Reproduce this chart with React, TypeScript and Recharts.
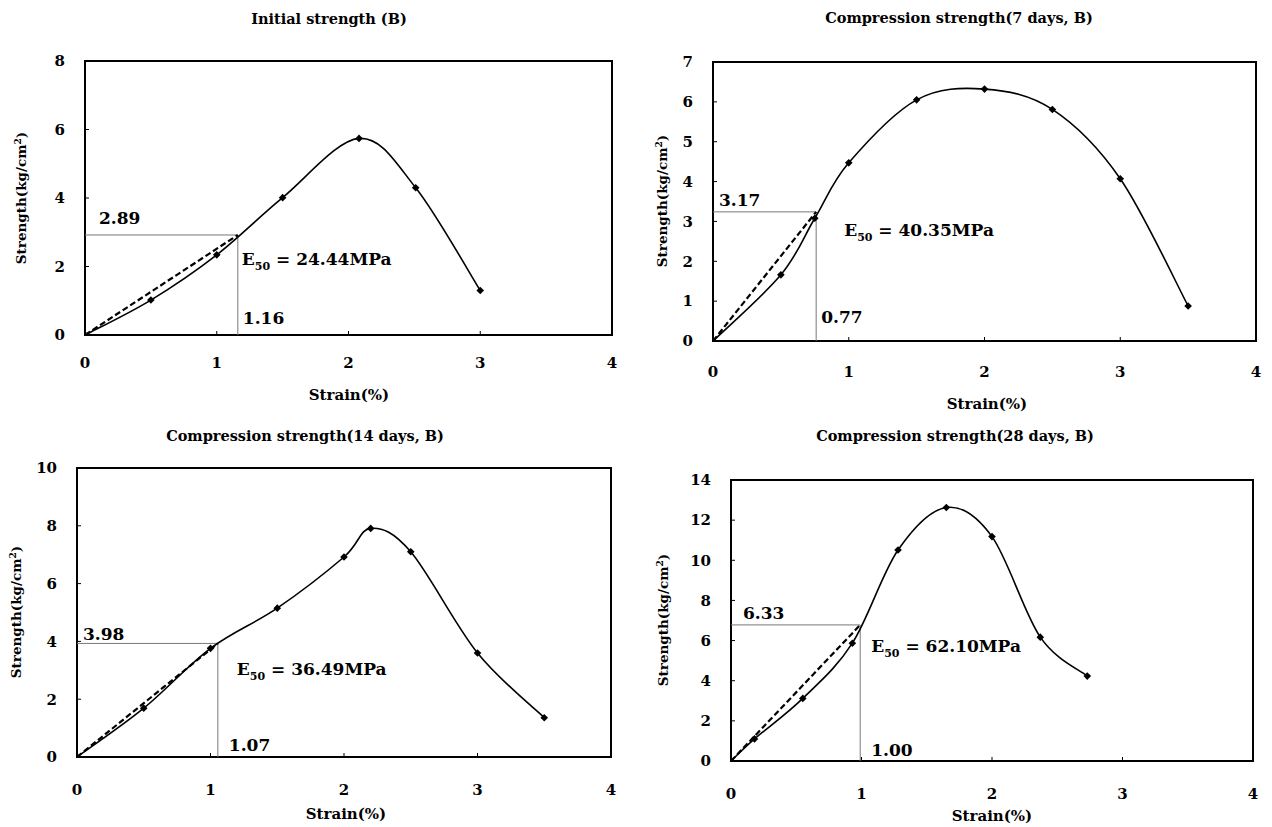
import React from 'react';
import {
  LineChart,
  Line,
  XAxis,
  YAxis,
  ReferenceLine,
  ReferenceArea,
  ReferenceDot,
} from 'recharts';

const FONT = "'DejaVu Serif', 'Liberation Serif', serif";

// ---------- data ----------
const titles = [
  'Initial strength (B)',
  'Compression strength(7 days, B)',
  'Compression strength(14 days, B)',
  'Compression strength(28 days, B)',
];

const initStrain = [0, 0.5, 1.0, 1.5, 2.08, 2.51, 3.0];
const initStress = [0, 1.02, 2.34, 4.01, 5.74, 4.3, 1.3];

const d7Strain = [0, 0.5, 0.75, 1.0, 1.5, 2.0, 2.5, 3.0, 3.5];
const d7Stress = [0, 1.66, 3.08, 4.47, 6.05, 6.32, 5.81, 4.07, 0.88];

const d14Strain = [0, 0.5, 1.0, 1.5, 2.0, 2.2, 2.5, 3.0, 3.5];
const d14Stress = [0, 1.69, 3.76, 5.15, 6.92, 7.91, 7.1, 3.6, 1.36];

const d28Strain = [0, 0.18, 0.55, 0.93, 1.28, 1.65, 2.0, 2.37, 2.73];
const d28Stress = [0, 1.1, 3.12, 5.87, 10.51, 12.63, 11.18, 6.17, 4.23];

// E50 construction points (as drawn) and their printed labels
const e50Strain = [1.16, 0.76, 1.055, 0.99];
const e50Stress = [2.92, 3.24, 3.93, 6.78];
const stressText = ['2.89', '3.17', '3.98', '6.33'];
const strainText = ['1.16', '0.77', '1.07', '1.00'];
const modulusText = ['24.44', '40.35', '36.49', '62.10'];

const xTicks = [0, 1, 2, 3, 4];
const yTicks1 = [0, 2, 4, 6, 8];
const yTicks2 = [0, 1, 2, 3, 4, 5, 6, 7];
const yTicks3 = [0, 2, 4, 6, 8, 10];
const yTicks4 = [0, 2, 4, 6, 8, 10, 12, 14];

const xTitle = 'Strain(%)';

// ---------- layout / style config ----------
type PanelCfg = {
  strain: number[];
  stress: number[];
  yTicks: number[];
  box: [number, number, number, number];
  margin: { top: number; right: number; bottom: number; left: number };
  xTickMargin: number;
  titlePos: [number, number];
  yTitlePos: [number, number];
  xTitlePos: [number, number];
  stressOff: [number, number];
  modOff: [number, number];
  strainOff: [number, number];
};

const panels: PanelCfg[] = [
  {
    strain: initStrain,
    stress: initStress,
    yTicks: yTicks1,
    box: [0, 0, 636, 413],
    margin: { top: 61, right: 24, bottom: 38, left: 25 },
    xTickMargin: 26,
    titlePos: [329, 19],
    yTitlePos: [22, 198],
    xTitlePos: [349, 395],
    stressOff: [14, -11],
    modOff: [4, 30],
    strainOff: [5, -11],
  },
  {
    strain: d7Strain,
    stress: d7Stress,
    yTicks: yTicks2,
    box: [636, 0, 636, 413],
    margin: { top: 62, right: 16, bottom: 32, left: 17 },
    xTickMargin: 29,
    titlePos: [959, 18],
    yTitlePos: [663, 201],
    xTitlePos: [987, 404],
    stressOff: [6, -6],
    modOff: [28, 24],
    strainOff: [5, -18],
  },
  {
    strain: d14Strain,
    stress: d14Stress,
    yTicks: yTicks3,
    box: [0, 413, 636, 414],
    margin: { top: 55, right: 25, bottom: 30, left: 17 },
    xTickMargin: 31,
    titlePos: [305, 436],
    yTitlePos: [17, 612],
    xTitlePos: [346, 814],
    stressOff: [6, -3],
    modOff: [19, 32],
    strainOff: [11, -6],
  },
  {
    strain: d28Strain,
    stress: d28Stress,
    yTicks: yTicks4,
    box: [636, 413, 636, 414],
    margin: { top: 67, right: 19, bottom: 26, left: 35 },
    xTickMargin: 31,
    titlePos: [955, 436],
    yTitlePos: [664, 620],
    xTitlePos: [992, 816],
    stressOff: [12, -6],
    modOff: [11, 27],
    strainOff: [11, -5],
  },
];

// Catmull-Rom style smoothing (similar to spreadsheet "smoothed line")
function smoothCurve(context: any) {
  let pts: [number, number][] = [];
  return {
    areaStart() {},
    areaEnd() {},
    lineStart() {
      pts = [];
    },
    lineEnd() {
      const n = pts.length;
      if (!n) return;
      context.moveTo(pts[0][0], pts[0][1]);
      if (n === 1) return;
      const t = 1 / 6;
      for (let i = 0; i < n - 1; i++) {
        const p0 = pts[i - 1] || pts[i];
        const p1 = pts[i];
        const p2 = pts[i + 1];
        const p3 = pts[i + 2] || p2;
        context.bezierCurveTo(
          p1[0] + (p2[0] - p0[0]) * t,
          p1[1] + (p2[1] - p0[1]) * t,
          p2[0] - (p3[0] - p1[0]) * t,
          p2[1] - (p3[1] - p1[1]) * t,
          p2[0],
          p2[1]
        );
      }
    },
    point(x: number, y: number) {
      pts.push([+x, +y]);
    },
  };
}

const Diamond = (props: any) => {
  const { cx, cy, index } = props;
  if (cx == null || cy == null) return <g key={`d-${index}`} />;
  const s = 3.8;
  return (
    <path
      key={`d-${index}`}
      d={`M${cx},${cy - s}L${cx + s},${cy}L${cx},${cy + s}L${cx - s},${cy}Z`}
      fill="#000"
    />
  );
};

const annStyle = {
  fontFamily: FONT,
  fontWeight: 700,
  fontSize: 17,
  fill: '#000',
};

const tickStyle = {
  fill: '#000',
  fontSize: 15,
  fontFamily: FONT,
  fontWeight: 700,
};

function Panel({ cfg, idx }: { cfg: PanelCfg; idx: number }) {
  const curve = cfg.strain.map((x, i) => ({ x, y: cfg.stress[i] }));
  const ex = e50Strain[idx];
  const ey = e50Stress[idx];
  const secant = [
    { x: 0, y: 0 },
    { x: ex, y: ey },
  ];
  const yMax = cfg.yTicks[cfg.yTicks.length - 1];
  return (
    <div style={{ position: 'absolute', left: cfg.box[0], top: cfg.box[1] }}>
      <LineChart width={cfg.box[2]} height={cfg.box[3]} margin={cfg.margin}>
        <XAxis
          type="number"
          dataKey="x"
          domain={[0, 4]}
          ticks={xTicks}
          allowDataOverflow
          axisLine={false}
          tickLine={{ stroke: '#000', strokeWidth: 1 }}
          tickSize={-4}
          tickMargin={cfg.xTickMargin}
          tick={tickStyle}
          height={40}
          interval={0}
        />
        <YAxis
          type="number"
          dataKey="y"
          domain={[0, yMax]}
          ticks={cfg.yTicks}
          allowDataOverflow
          axisLine={false}
          tickLine={{ stroke: '#000', strokeWidth: 1 }}
          tickSize={-4}
          tickMargin={24}
          tick={tickStyle}
          width={60}
          interval={0}
        />
        <ReferenceLine
          segment={[
            { x: 0, y: ey },
            { x: ex, y: ey },
          ]}
          stroke="#777"
          strokeWidth={1}
        />
        <ReferenceLine
          segment={[
            { x: ex, y: 0 },
            { x: ex, y: ey },
          ]}
          stroke="#777"
          strokeWidth={1}
        />
        <ReferenceArea
          x1={0}
          x2={4}
          y1={0}
          y2={yMax}
          fill="none"
          fillOpacity={0}
          stroke="#000"
          strokeWidth={2}
        />
        <Line
          data={secant}
          dataKey="y"
          type="linear"
          stroke="#000"
          strokeWidth={2.2}
          strokeDasharray="6 3"
          dot={false}
          activeDot={false}
          isAnimationActive={false}
        />
        <Line
          data={curve}
          dataKey="y"
          type={smoothCurve as any}
          stroke="#000"
          strokeWidth={1.6}
          dot={Diamond}
          activeDot={false}
          isAnimationActive={false}
        />
        <ReferenceDot
          x={0}
          y={ey}
          r={0}
          shape={(p: any) => (
            <text
              x={p.cx + cfg.stressOff[0]}
              y={p.cy + cfg.stressOff[1]}
              style={annStyle}
            >
              {stressText[idx]}
            </text>
          )}
        />
        <ReferenceDot
          x={ex}
          y={ey}
          r={0}
          shape={(p: any) => (
            <text
              x={p.cx + cfg.modOff[0]}
              y={p.cy + cfg.modOff[1]}
              style={annStyle}
            >
              E
              <tspan dy={5} style={{ fontSize: 11 }}>
                50
              </tspan>
              <tspan dy={-5}>{` = ${modulusText[idx]}MPa`}</tspan>
            </text>
          )}
        />
        <ReferenceDot
          x={ex}
          y={0}
          r={0}
          shape={(p: any) => (
            <text
              x={p.cx + cfg.strainOff[0]}
              y={p.cy + cfg.strainOff[1]}
              style={annStyle}
            >
              {strainText[idx]}
            </text>
          )}
        />
      </LineChart>
    </div>
  );
}

const labelBase: React.CSSProperties = {
  position: 'absolute',
  fontFamily: FONT,
  fontWeight: 700,
  color: '#000',
  whiteSpace: 'nowrap',
  lineHeight: 1,
};

export default function App() {
  return (
    <div
      style={{
        position: 'absolute',
        left: 0,
        top: 0,
        width: 1272,
        height: 827,
        background: '#fff',
        overflow: 'hidden',
      }}
    >
      {panels.map((cfg, i) => (
        <React.Fragment key={i}>
          <Panel cfg={cfg} idx={i} />
          <div
            style={{
              ...labelBase,
              fontSize: 14.5,
              left: cfg.titlePos[0],
              top: cfg.titlePos[1],
              transform: 'translate(-50%, -50%)',
            }}
          >
            {titles[i]}
          </div>
          <div
            style={{
              ...labelBase,
              fontSize: 15,
              left: cfg.xTitlePos[0],
              top: cfg.xTitlePos[1],
              transform: 'translate(-50%, -50%)',
            }}
          >
            {xTitle}
          </div>
          <div
            style={{
              ...labelBase,
              fontSize: 13.5,
              left: cfg.yTitlePos[0],
              top: cfg.yTitlePos[1],
              transform: 'translate(-50%, -50%) rotate(-90deg)',
            }}
          >
            Strength(kg/cm
            <span style={{ fontSize: 9, verticalAlign: 'super', lineHeight: 0 }}>2</span>)
          </div>
        </React.Fragment>
      ))}
    </div>
  );
}
